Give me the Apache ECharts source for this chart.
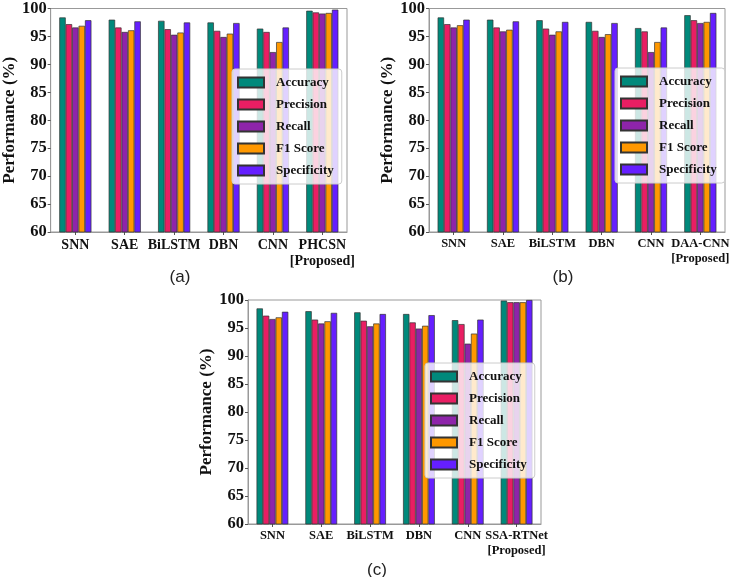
<!DOCTYPE html>
<html>
<head>
<meta charset="utf-8">
<script src="https://cdn.jsdelivr.net/npm/echarts@6/dist/echarts.min.js"></script>
<style>
  html, body { margin: 0; padding: 0; background: #fff; }
  #chart { width: 732px; height: 577px; }
</style>
</head>
<body>
<div id="chart"></div>
<script>
// metric names and colours
var metrics = ['Accuracy', 'Precision', 'Recall', 'F1 Score', 'Specificity']
var colors = ['#00897b', '#e91e63', '#8e24aa', '#ff9800', '#651fff']

// y axis
var yMin = 60
var yMax = 100
var yStep = 5

// methods per panel
var catsA = ['SNN', 'SAE', 'BiLSTM', 'DBN', 'CNN', 'PHCSN\n[Proposed]']
var catsB = ['SNN', 'SAE', 'BiLSTM', 'DBN', 'CNN', 'DAA-CNN\n[Proposed]']
var catsC = ['SNN', 'SAE', 'BiLSTM', 'DBN', 'CNN', 'SSA-RTNet\n[Proposed]']

// panel (a) values, one array per metric (SNN, SAE, BiLSTM, DBN, CNN, proposed)
var accA = [98.4, 98.0, 97.8, 97.5, 96.4, 99.6]
var preA = [97.2, 96.6, 96.3, 96.0, 95.8, 99.3]
var recA = [96.6, 95.8, 95.3, 94.9, 92.2, 99.1]
var f1A = [96.9, 96.1, 95.7, 95.5, 94.0, 99.2]
var speA = [97.9, 97.7, 97.5, 97.4, 96.6, 99.8]

// panel (b)
var accB = [98.4, 98.0, 97.9, 97.6, 96.5, 98.8]
var preB = [97.2, 96.6, 96.4, 96.0, 95.9, 97.9]
var recB = [96.6, 95.9, 95.3, 94.9, 92.2, 97.4]
var f1B = [97.0, 96.2, 95.9, 95.4, 94.0, 97.6]
var speB = [98.0, 97.7, 97.6, 97.4, 96.6, 99.2]

// panel (c)
var accC = [98.5, 98.0, 97.8, 97.5, 96.4, 99.9]
var preC = [97.2, 96.5, 96.3, 96.0, 95.7, 99.6]
var recC = [96.6, 95.8, 95.3, 94.9, 92.2, 99.6]
var f1C = [96.9, 96.2, 95.8, 95.4, 94.0, 99.6]
var speC = [97.9, 97.7, 97.5, 97.3, 96.5, 100.0]

var panels = [
  { cats: catsA, values: [accA, preA, recA, f1A, speA], cap: '(a)' },
  { cats: catsB, values: [accB, preB, recB, f1B, speB], cap: '(b)' },
  { cats: catsC, values: [accC, preC, recC, f1C, speC], cap: '(c)' }
]

var serif = 'Liberation Serif'

var grids = [
  { left: 46, top: 6, width: 301, height: 226 },
  { left: 429, top: 6, width: 302, height: 226 },
  { left: 248, top: 300, width: 293, height: 224 }
]
var xFont = [14, 12.5, 12.5]
var legendPos = [
  { left: 232, top: 69 },
  { left: 615, top: 68 },
  { left: 425, top: 363 }
]
var capPos = [[180, 277], [563, 277], [377, 570]]

var xAxes = []
var yAxes = []
var series = []
var legends = []
var texts = []

panels.forEach(function (p, i) {
  xAxes.push({
    type: 'category',
    gridIndex: i,
    data: p.cats,
    axisLine: { lineStyle: { color: '#999', width: 1 } },
    axisTick: { show: true, alignWithLabel: true, length: 3, lineStyle: { color: '#555' } },
    axisLabel: {
      color: '#111', fontFamily: serif, fontWeight: 'bold', fontSize: xFont[i],
      margin: 5, lineHeight: xFont[i] + 2, interval: 0
    }
  })
  yAxes.push({
    type: 'value',
    gridIndex: i,
    min: yMin,
    max: yMax,
    interval: yStep,
    name: 'Performance (%)',
    nameLocation: 'middle',
    nameGap: 31,
    nameTextStyle: { color: '#111', fontFamily: serif, fontWeight: 'bold', fontSize: 17 },
    splitLine: { show: false },
    axisLine: { show: true, lineStyle: { color: '#999', width: 1 } },
    axisTick: { show: true, length: 3, lineStyle: { color: '#555' } },
    axisLabel: { color: '#111', fontFamily: serif, fontWeight: 'bold', fontSize: 16.5, margin: 4 }
  })
  metrics.forEach(function (m, k) {
    series.push({
      name: m,
      type: 'bar',
      xAxisIndex: i,
      yAxisIndex: i,
      data: p.values[k],
      barGap: '0%',
      barCategoryGap: '35%',
      itemStyle: { color: colors[k], borderColor: '#333', borderWidth: 0.7 },
      emphasis: { disabled: true }
    })
  })
  legends.push({
    orient: 'vertical',
    left: legendPos[i].left,
    top: legendPos[i].top,
    data: metrics,
    icon: 'rect',
    itemWidth: 26,
    itemHeight: 10,
    itemGap: 9,
    padding: [7, 8, 7, 5],
    borderColor: '#ccc',
    borderWidth: 1,
    borderRadius: 3,
    backgroundColor: 'rgba(255,255,255,0.8)',
    selectedMode: false,
    textStyle: { color: '#111', fontFamily: serif, fontWeight: 'bold', fontSize: 13, padding: [0, 0, 0, 7] }
  })
  texts.push({
    type: 'text',
    x: capPos[i][0],
    y: capPos[i][1],
    style: {
      text: p.cap, fill: '#222', font: '17px "Liberation Sans"',
      textAlign: 'center', textVerticalAlign: 'middle'
    }
  })
})

var chart = echarts.init(document.getElementById('chart'), null, { renderer: 'canvas' })
chart.setOption({
  animation: false,
  grid: grids.map(function (g) {
    return Object.assign({ show: true, borderColor: '#999', borderWidth: 1, containLabel: false }, g)
  }),
  xAxis: xAxes,
  yAxis: yAxes,
  legend: legends,
  series: series,
  graphic: texts
})
</script>
</body>
</html>
